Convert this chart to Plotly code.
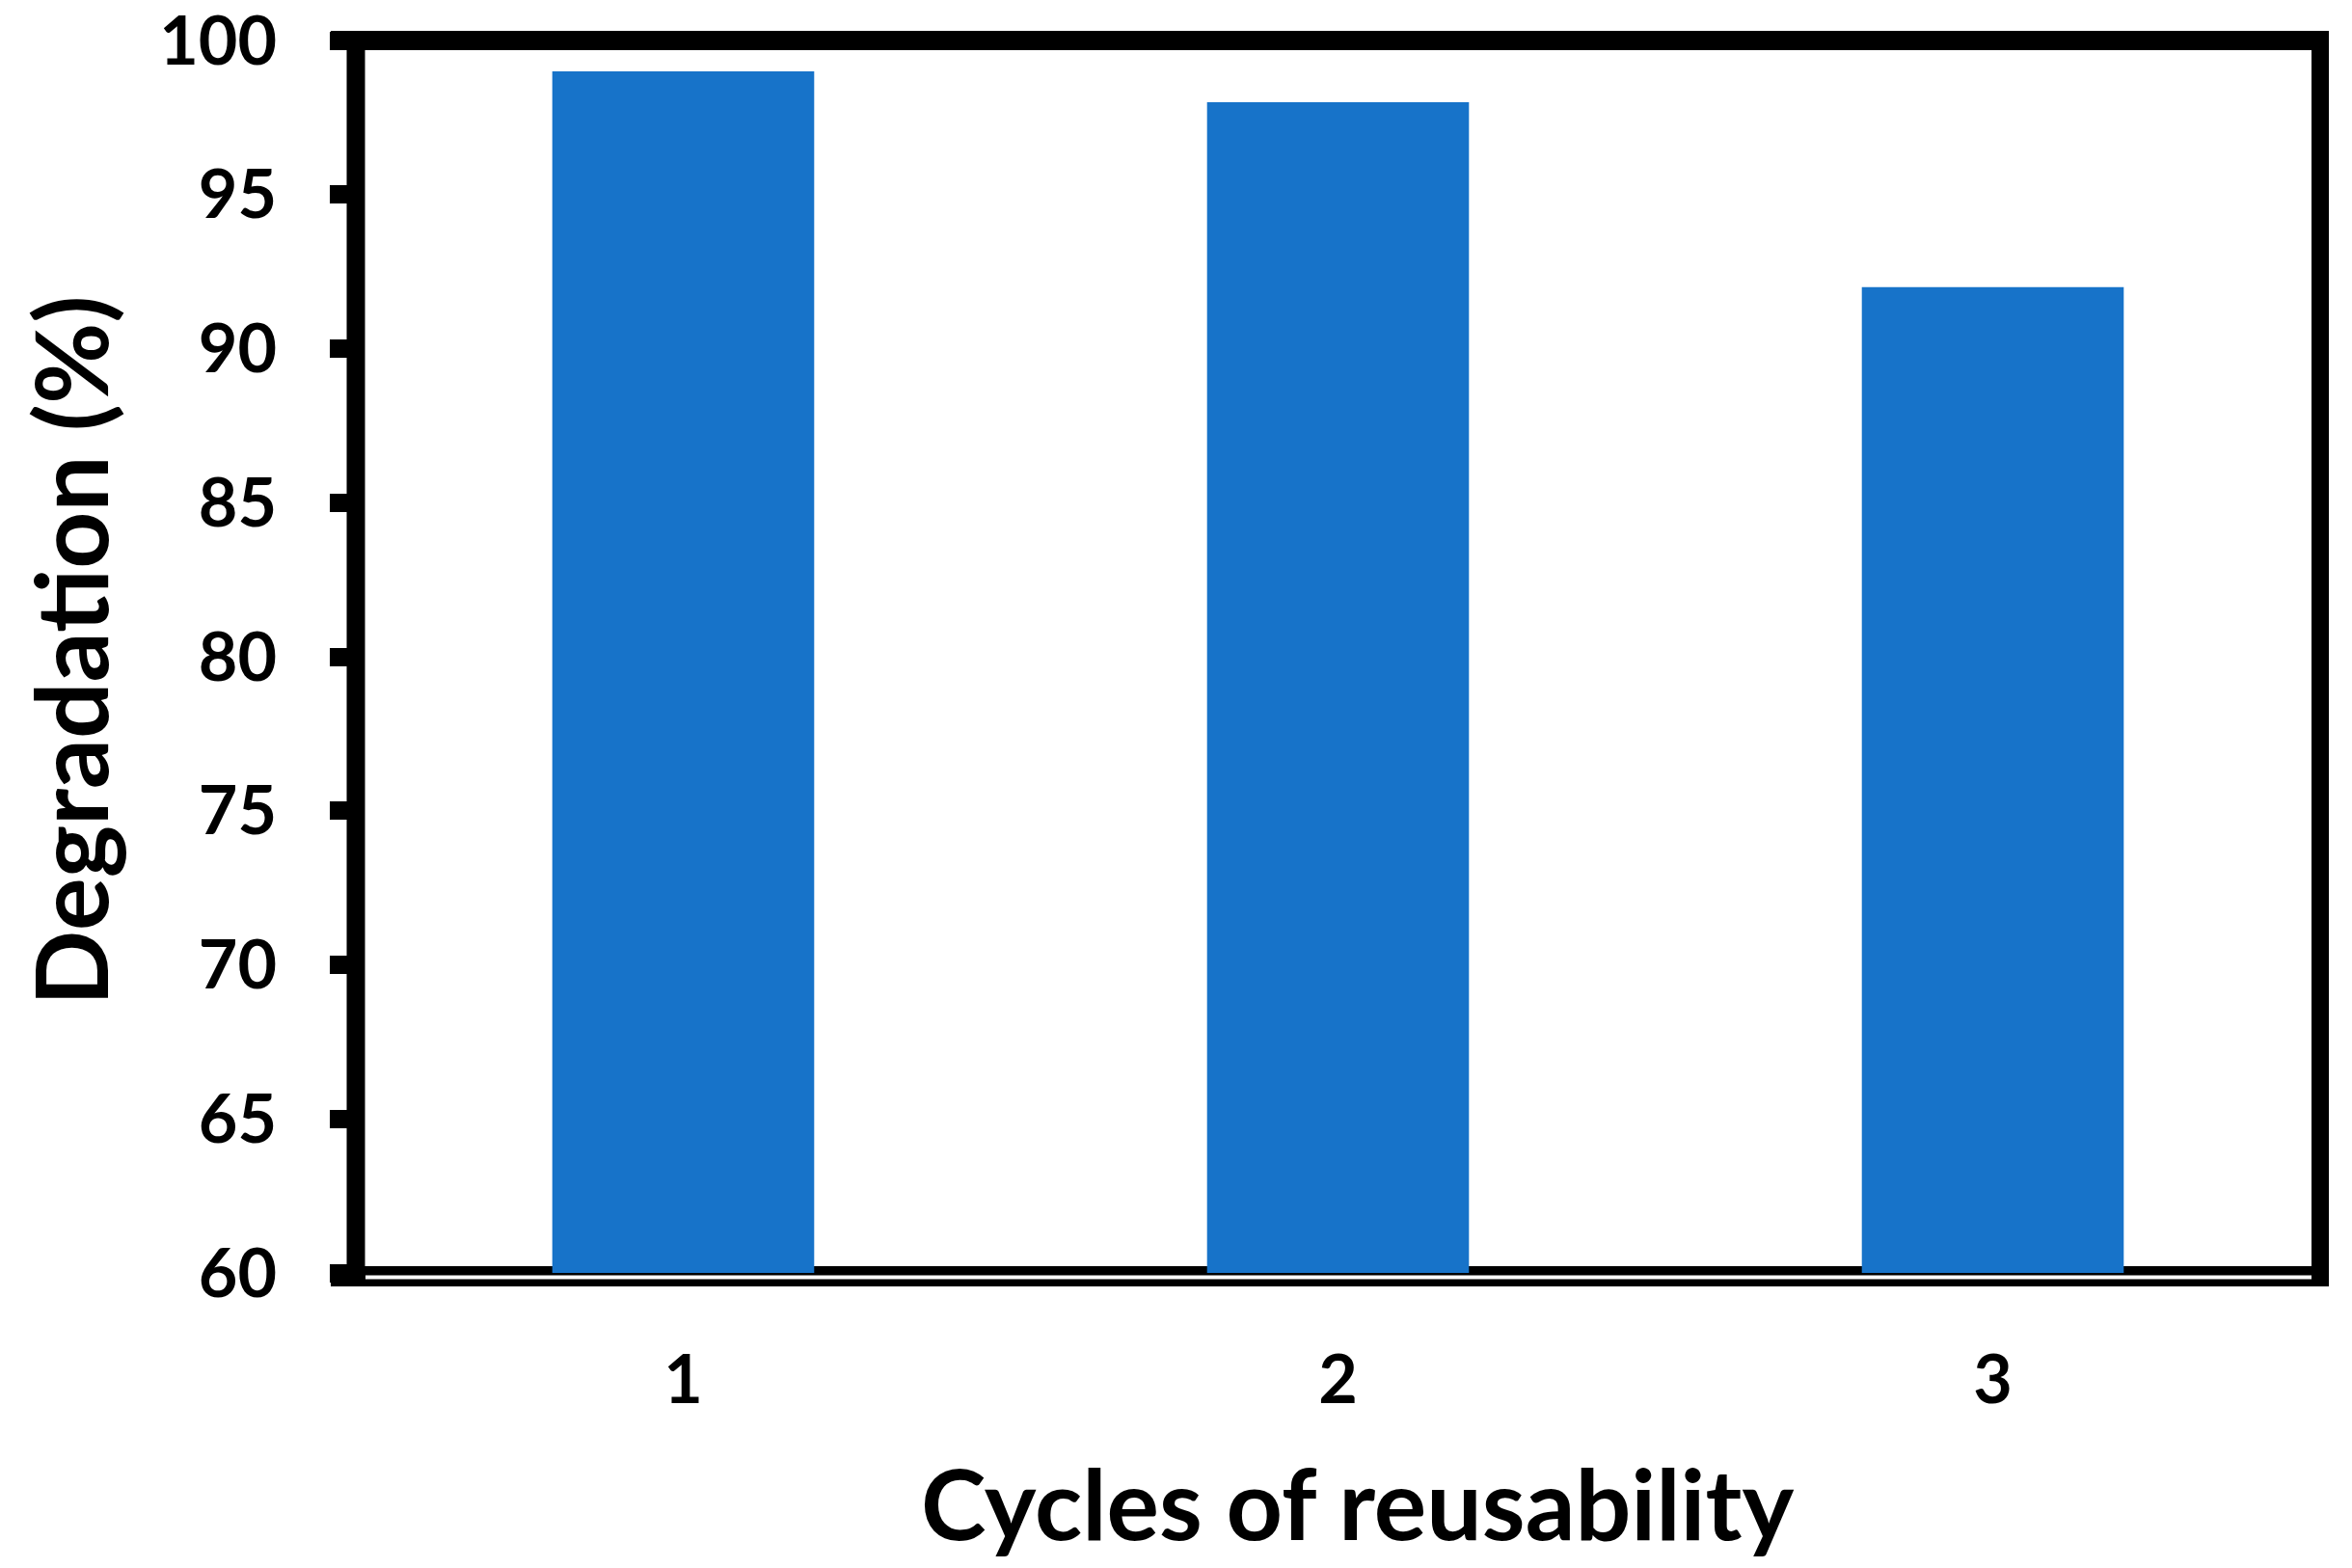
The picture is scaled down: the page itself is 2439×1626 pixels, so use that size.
import plotly.graph_objects as go

# ---- data ----
cycles = [1, 2, 3]
cycle_labels = ["1", "2", "3"]
degradation = [99.0, 98.0, 92.0]
y_ticks = [60, 65, 70, 75, 80, 85, 90, 95, 100]

W, H = 2439, 1626
OFF = 8  # page body margin compensation
L, R, T, B = 369 - OFF, 2406 - OFF, 42 - OFF, 1320 - OFF  # plot area in figure pixels

def px(x):
    return (x - L) / (R - L)

def py(y):
    return (B - y) / (B - T)

FONT = "Lato"

fig = go.Figure()
fig.add_trace(go.Bar(
    x=cycles, y=degradation, width=0.4,
    marker=dict(color="#1773C9", line=dict(width=0)),
))

o = OFF
shapes = []
# bottom axis line (below bars)
shapes.append(dict(type="line", xref="paper", yref="paper", layer="below",
                   x0=px(343 - o), x1=px(2415 - o), y0=py(1323.5 - o), y1=py(1323.5 - o),
                   line=dict(color="black", width=21)))
# thin white stripe in bottom line
shapes.append(dict(type="line", xref="paper", yref="paper", layer="above",
                   x0=px(379 - o), x1=px(2397 - o), y0=py(1324.5 - o), y1=py(1324.5 - o),
                   line=dict(color="white", width=4)))
# top border
shapes.append(dict(type="line", xref="paper", yref="paper", layer="above",
                   x0=px(343 - o), x1=px(2415 - o), y0=py(42 - o), y1=py(42 - o),
                   line=dict(color="black", width=20)))
# left axis line
shapes.append(dict(type="line", xref="paper", yref="paper", layer="above",
                   x0=px(369 - o), x1=px(369 - o), y0=py(32 - o), y1=py(1334 - o),
                   line=dict(color="black", width=19)))
# right border
shapes.append(dict(type="line", xref="paper", yref="paper", layer="above",
                   x0=px(2406 - o), x1=px(2406 - o), y0=py(32 - o), y1=py(1334 - o),
                   line=dict(color="black", width=18)))

fig.update_layout(
    width=W, height=H,
    margin=dict(l=L, r=W - R, t=T, b=H - B, pad=0, autoexpand=False),
    paper_bgcolor="white", plot_bgcolor="white",
    showlegend=False,
    shapes=shapes,
    font=dict(family=FONT, color="black"),
    xaxis=dict(
        range=[0.5, 3.5], tickmode="array", tickvals=cycles, ticktext=cycle_labels,
        showgrid=False, zeroline=False, showline=False, ticks="",
        tickfont=dict(family=FONT, size=70, weight="bold", color="black"),
        ticklabelstandoff=64, automargin=False,
    ),
    yaxis=dict(
        range=[60, 100.001], tickmode="array", tickvals=y_ticks,
        showgrid=False, zeroline=False, showline=False,
        ticks="outside", ticklen=26, tickwidth=19, tickcolor="black",
        tickfont=dict(family=FONT, size=70, weight="bold", color="black"),
        ticklabelstandoff=41, ticklabeloverflow="allow", automargin=False,
    ),
    annotations=[
        dict(text="Cycles of reusability", xref="paper", yref="paper",
             x=px(1399), y=py(1549), xanchor="center", yanchor="middle",
             showarrow=False, font=dict(family=FONT, size=102, weight="bold", color="black")),
        dict(text="Degradation (%)", xref="paper", yref="paper", textangle=-90,
             x=px(64), y=py(667), xanchor="center", yanchor="middle",
             showarrow=False, font=dict(family=FONT, size=103, weight="bold", color="black")),
    ],
)

fig.write_html("out.html")
